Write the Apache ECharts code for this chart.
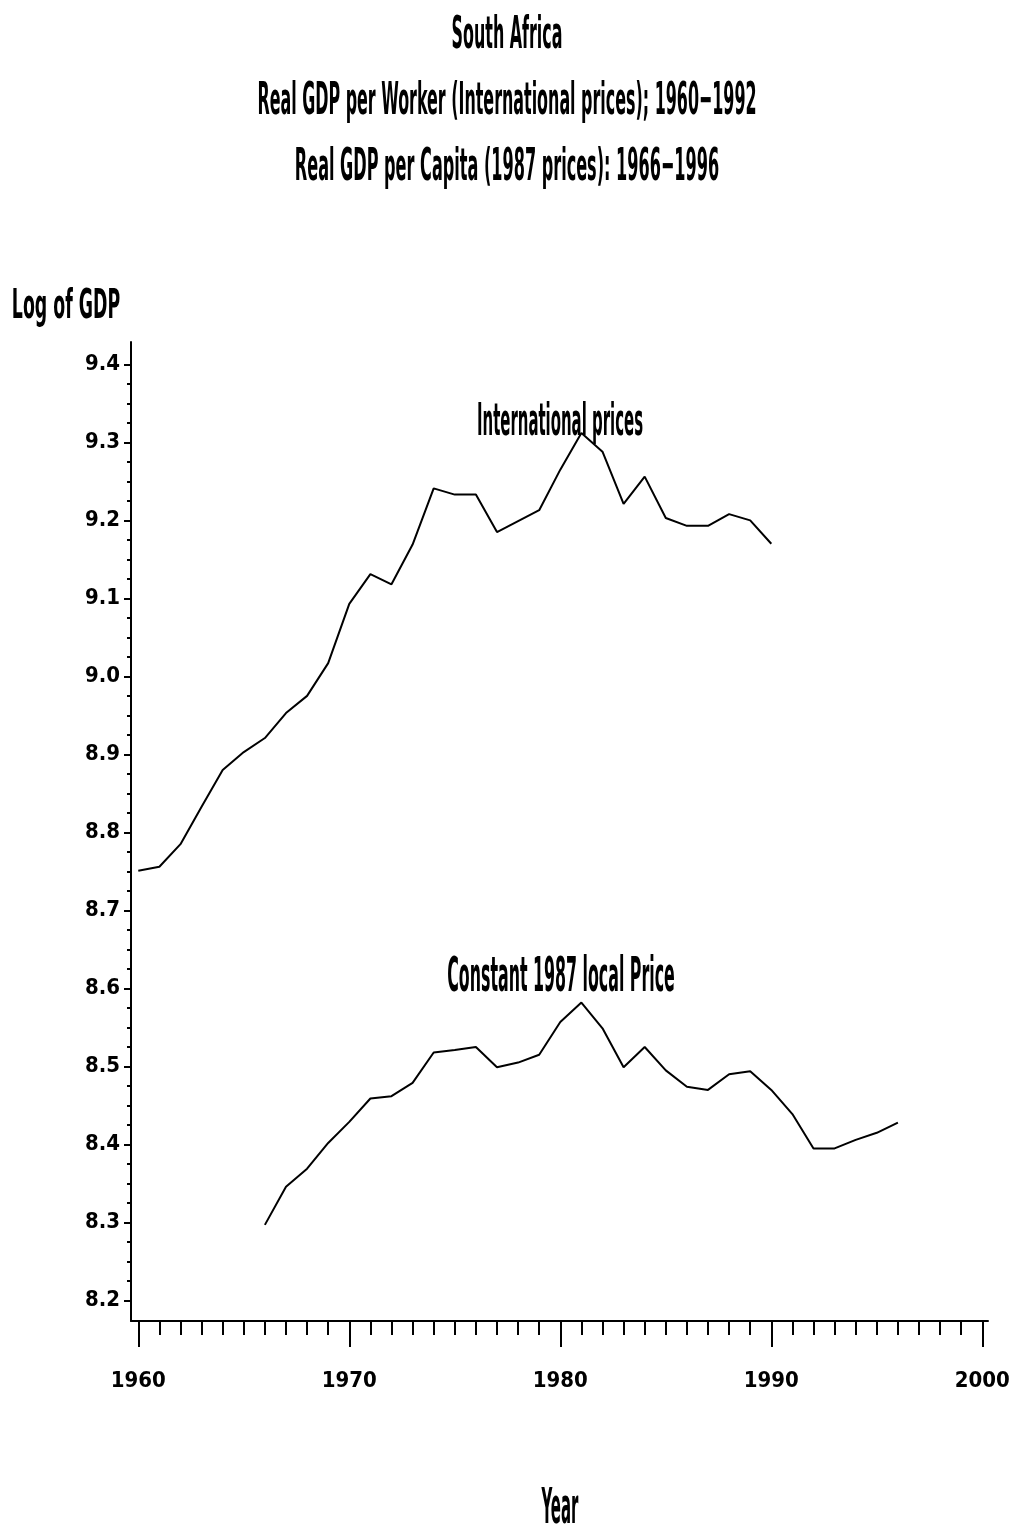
<!DOCTYPE html>
<html>
<head>
<meta charset="utf-8">
<title>South Africa – Log of GDP</title>
<script src="https://cdn.jsdelivr.net/npm/echarts@6/dist/echarts.min.js"></script>
<style>
  html, body { margin: 0; padding: 0; background: #fff; }
  #chart { width: 1011px; height: 1532px; }
</style>
</head>
<body>
<div id="chart"></div>
<script>
// Real GDP per worker, international prices (log), 1960–1990
const intlYears = [1960, 1961, 1962, 1963, 1964, 1965, 1966, 1967, 1968, 1969,
                   1970, 1971, 1972, 1973, 1974, 1975, 1976, 1977, 1978, 1979,
                   1980, 1981, 1982, 1983, 1984, 1985, 1986, 1987, 1988, 1989, 1990];
const intlPrices = [8.751, 8.756, 8.785, 8.833, 8.880, 8.903, 8.921, 8.953, 8.975, 9.017,
                    9.093, 9.131, 9.118, 9.169, 9.241, 9.233, 9.233, 9.185, 9.199, 9.213,
                    9.265, 9.312, 9.288, 9.221, 9.256, 9.203, 9.193, 9.193, 9.208, 9.200, 9.170];

// Real GDP per capita, constant 1987 local prices (log), 1966–1996
const localYears = [1966, 1967, 1968, 1969, 1970, 1971, 1972, 1973, 1974, 1975,
                    1976, 1977, 1978, 1979, 1980, 1981, 1982, 1983, 1984, 1985,
                    1986, 1987, 1988, 1989, 1990, 1991, 1992, 1993, 1994, 1995, 1996];
const localPrices = [8.297, 8.346, 8.369, 8.402, 8.429, 8.459, 8.462, 8.479, 8.518, 8.521,
                     8.525, 8.499, 8.505, 8.515, 8.557, 8.582, 8.549, 8.499, 8.525, 8.495,
                     8.474, 8.470, 8.490, 8.494, 8.470, 8.439, 8.395, 8.395, 8.406, 8.415, 8.428];

// Axis ticks
const yMajorTicks = [8.2, 8.3, 8.4, 8.5, 8.6, 8.7, 8.8, 8.9, 9.0, 9.1, 9.2, 9.3, 9.4];
const xMajorTicks = [1960, 1970, 1980, 1990, 2000];

// Titles and annotations
const titleLines = [
  'South Africa',
  'Real GDP per Worker (International prices); 1960\u22121992',
  'Real GDP per Capita (1987 prices): 1966\u22121996'
];
const intlLabel = 'International prices';
const localLabel = 'Constant 1987 local Price';
const yAxisTitle = 'Log of GDP';
const xAxisTitle = 'Year';

// minor ticks: quarter steps on Y, yearly on X
const yMinorTicks = [];
for (let i = 0; i < yMajorTicks.length - 1; i++) {
  for (let k = 1; k < 4; k++) yMinorTicks.push(+(yMajorTicks[i] + k * 0.025).toFixed(3));
}
const xMinorTicks = [];
for (let y = xMajorTicks[0]; y <= xMajorTicks[xMajorTicks.length - 1]; y++) {
  if (xMajorTicks.indexOf(y) < 0) xMinorTicks.push(y);
}

const FONT = '"Liberation Sans Narrow", "DejaVu Sans Condensed", "Liberation Sans", sans-serif';
const X_MIN = 1959.655, X_MAX = 2000.27;
const Y_MIN = 8.1738, Y_MAX = 9.4286;

// tall, condensed lettering: font size sets the width, capHeight the stretched height
function stretchedText(text, x, y, size, capHeight) {
  return {
    type: 'text', x: x, y: y, scaleY: capHeight / (0.73 * size), silent: true,
    style: {
      text: text, fill: '#000', fontFamily: FONT, fontWeight: 'bold',
      fontSize: size, textAlign: 'center', textVerticalAlign: 'middle'
    }
  };
}

const chart = echarts.init(document.getElementById('chart'), null, { renderer: 'canvas' });

const axisLabelStyle = {
  color: '#000', fontFamily: FONT, fontWeight: 'bold', fontSize: 22
};

chart.setOption({
  animation: false,
  backgroundColor: '#fff',
  grid: { left: 131, right: 23, top: 342, bottom: 211, outerBoundsMode: 'none' },
  xAxis: [
    {
      type: 'value', min: X_MIN, max: X_MAX, position: 'bottom', offset: 0,
      splitLine: { show: false },
      axisLine: { show: true, lineStyle: { color: '#000', width: 2 } },
      axisTick: { show: true, inside: false, length: 26, customValues: xMajorTicks,
                  lineStyle: { color: '#000', width: 2 } },
      axisLabel: { show: true, margin: 49, customValues: xMajorTicks,
                   formatter: v => String(Math.round(v)), ...axisLabelStyle }
    },
    {
      type: 'value', min: X_MIN, max: X_MAX, position: 'bottom', offset: 0,
      splitLine: { show: false },
      axisLine: { show: false },
      axisTick: { show: true, inside: false, length: 14, customValues: xMinorTicks,
                  lineStyle: { color: '#000', width: 2 } },
      axisLabel: { show: false }
    }
  ],
  yAxis: [
    {
      type: 'value', min: Y_MIN, max: Y_MAX, position: 'left', offset: 0,
      splitLine: { show: false },
      axisLine: { show: true, lineStyle: { color: '#000', width: 2 } },
      axisTick: { show: true, inside: false, length: 7, customValues: yMajorTicks,
                  lineStyle: { color: '#000', width: 2 } },
      axisLabel: { show: true, margin: 11, customValues: yMajorTicks,
                   formatter: v => v.toFixed(1), ...axisLabelStyle }
    },
    {
      type: 'value', min: Y_MIN, max: Y_MAX, position: 'left', offset: 0,
      splitLine: { show: false },
      axisLine: { show: false },
      axisTick: { show: true, inside: false, length: 4, customValues: yMinorTicks,
                  lineStyle: { color: '#000', width: 2 } },
      axisLabel: { show: false }
    }
  ],
  series: [
    {
      name: intlLabel, type: 'line', xAxisIndex: 0, yAxisIndex: 0,
      data: intlYears.map((yr, i) => [yr, intlPrices[i]]),
      showSymbol: false, symbol: 'none',
      lineStyle: { color: '#000', width: 2 }
    },
    {
      name: localLabel, type: 'line', xAxisIndex: 0, yAxisIndex: 0,
      data: localYears.map((yr, i) => [yr, localPrices[i]]),
      showSymbol: false, symbol: 'none',
      lineStyle: { color: '#000', width: 2 }
    }
  ]
});

// Titles, axis names and curve annotations
chart.setOption({
  graphic: [
    stretchedText(titleLines[0], 507, 36, 17.7, 33),
    stretchedText(titleLines[1], 507, 102, 17.7, 33),
    stretchedText(titleLines[2], 507, 168, 17.9, 33),
    stretchedText(yAxisTitle, 66, 307, 19.3, 30),
    stretchedText(xAxisTitle, 560, 1510, 16.6, 36),
    stretchedText(intlLabel, 560, 423, 16.6, 33),
    stretchedText(localLabel, 561, 979, 17.6, 35)
  ]
});
</script>
</body>
</html>
